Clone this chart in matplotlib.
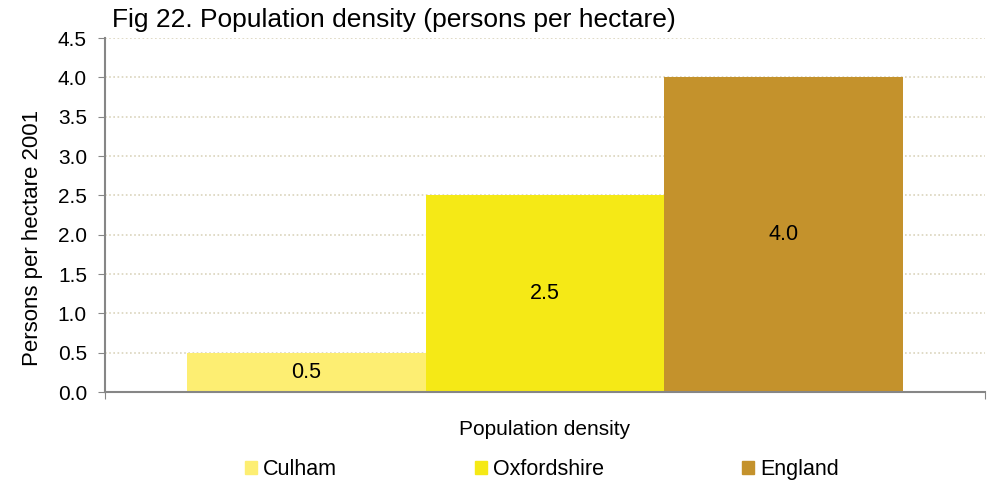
import matplotlib
matplotlib.use("Agg")
import matplotlib.pyplot as plt
import numpy as np

areas = ["Culham", "Oxfordshire", "England"]
density = [0.5, 2.5, 4.0]
colors = ["#FDEE72", "#F5E916", "#C4922C"]
yticks = [0.0, 0.5, 1.0, 1.5, 2.0, 2.5, 3.0, 3.5, 4.0, 4.5]

plt.rcParams['font.family'] = ['Liberation Sans', 'DejaVu Sans']

fig = plt.figure(figsize=(9.88, 4.83), dpi=100)
ax = fig.add_axes([0.1063, 0.1884, 0.8907, 0.7329])

x = np.arange(len(areas)) - 1
bars = ax.bar(x, density, width=1.0, color=colors, label=areas, zorder=2)
for b, v in zip(bars, density):
    ax.text(b.get_x() + b.get_width() / 2, v / 2, f"{v:.1f}",
            ha='center', va='center', fontsize=15.5)

ax.set_xlim(-1.843, 1.843)
ax.set_ylim(0, 4.5)
ax.set_yticks(yticks)
ax.set_yticklabels([f"{t:.1f}" for t in yticks], fontsize=15)
ax.set_xticks([-1.843, 1.843])
ax.set_xticklabels([])
ax.tick_params(axis='both', length=5, color='#868686', direction='out')
ax.tick_params(axis='y', pad=8)
ax.yaxis.grid(True, linestyle=(0, (1, 1.5)), color='#DAD4BC', linewidth=1.2, zorder=0)
ax.set_axisbelow(True)
for s in ['top', 'right']:
    ax.spines[s].set_visible(False)
for s in ['left', 'bottom']:
    ax.spines[s].set_color('#868686')
    ax.spines[s].set_linewidth(1.5)

ax.set_xlabel("Population density", fontsize=15, labelpad=12)
ax.set_ylabel("Persons per hectare 2001", fontsize=16)
ax.yaxis.set_label_coords(-0.071, 0.435)
fig.text(0.113, 0.958, "Fig 22. Population density (persons per hectare)",
         fontsize=19, va='center', ha='left')

handles = [plt.Rectangle((0, 0), 1, 1, color=c) for c in colors]
fig.legend(handles, areas, loc='center', bbox_to_anchor=(0.5486, 0.027),
           ncol=3, frameon=False, fontsize=15.5, handlelength=0.56, handleheight=0.56,
           handletextpad=0.28, columnspacing=6.4)

fig.savefig("out.png", dpi=100)
